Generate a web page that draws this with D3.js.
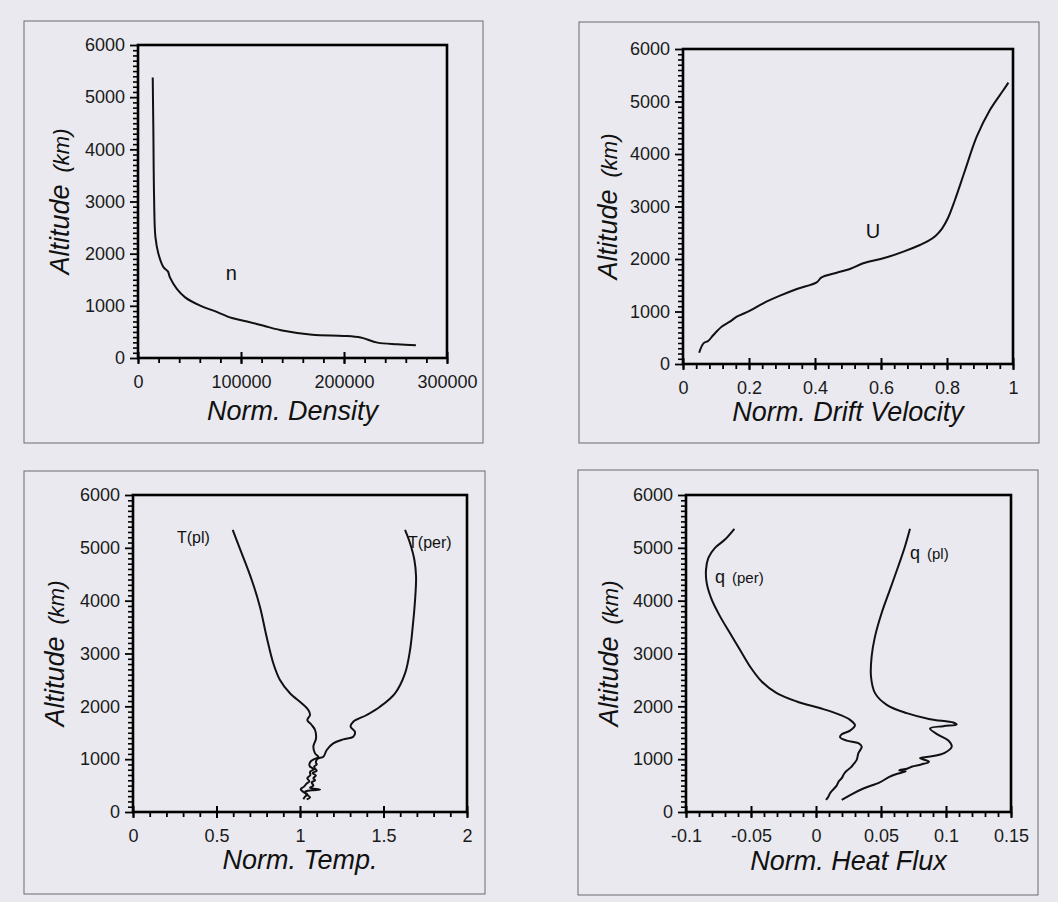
<!DOCTYPE html>
<html><head><meta charset="utf-8">
<script src="https://cdn.jsdelivr.net/npm/d3@7"></script>
<style>
html,body{margin:0;padding:0;background:#e9e9ef;}
svg{display:block;font-family:"Liberation Sans",Arial,Helvetica,sans-serif;}
</style></head><body>
<svg id="chart" width="1058" height="902"></svg>
<script>
// ---------------- data ----------------
const altitudeTicks = [0, 1000, 2000, 3000, 4000, 5000, 6000];
const densityTicks = [0, 100000, 200000, 300000];
const driftTicks = [0, 0.2, 0.4, 0.6, 0.8, 1];
const tempTicks = [0, 0.5, 1, 1.5, 2];
const fluxTicks = [-0.1, -0.05, 0, 0.05, 0.1, 0.15];
const fluxTickLabels = ["-0.1", "-0.05", "0", "0.05", "0.1", "0.15"];

// [value, altitude km]
const densityN = [[14300,5377],[14900,4379],[15600,3093],[16900,2321],[19800,2000],[24700,1742],[29000,1660],[31000,1545],[37700,1325],[45800,1163],[60400,1003],[73300,907],[91300,766],[105900,700],[122100,617],[141500,521],[169200,444],[200000,424],[216200,392],[232500,295],[252000,264],[269800,245]];

const driftU = [[0.049,215],[0.062,394],[0.077,444],[0.092,552],[0.117,710],[0.142,806],[0.163,901],[0.203,1015],[0.243,1156],[0.294,1301],[0.345,1429],[0.405,1556],[0.420,1651],[0.466,1739],[0.506,1810],[0.546,1918],[0.607,2013],[0.668,2140],[0.718,2267],[0.742,2340],[0.765,2440],[0.785,2580],[0.803,2780],[0.824,3124],[0.855,3695],[0.890,4330],[0.930,4838],[0.971,5219],[0.986,5359]];

const tempPl = [[0.597,5338],[0.651,4896],[0.711,4391],[0.760,3886],[0.800,3318],[0.840,2815],[0.880,2498],[0.940,2247],[1.010,2057],[1.050,1931],[1.060,1836],[1.044,1741],[1.070,1647],[1.090,1552],[1.096,1395],[1.080,1236],[1.090,1110],[1.110,1040],[1.085,1000],[1.065,960],[1.056,900],[1.060,860],[1.084,810],[1.060,760],[1.062,700],[1.044,640],[1.056,580],[1.040,540],[1.024,480],[1.004,430],[1.020,380],[1.045,330],[1.030,290],[1.020,240]];

const tempPer = [[1.629,5338],[1.659,5086],[1.685,4770],[1.695,4454],[1.689,4013],[1.675,3507],[1.659,3066],[1.629,2625],[1.569,2247],[1.479,1993],[1.399,1836],[1.319,1709],[1.303,1615],[1.329,1520],[1.319,1425],[1.259,1375],[1.199,1300],[1.160,1174],[1.140,1047],[1.110,1016],[1.100,990],[1.095,940],[1.100,900],[1.085,860],[1.090,820],[1.100,780],[1.075,740],[1.095,690],[1.080,640],[1.090,600],[1.070,560],[1.080,500],[1.060,460],[1.120,425],[1.070,410],[1.030,380],[1.040,330],[1.060,280],[1.040,240]];

const fluxPer = [[-0.0628,5360],[-0.070,5157],[-0.0777,4999],[-0.0828,4810],[-0.0846,4588],[-0.0841,4336],[-0.0802,4019],[-0.0738,3703],[-0.0662,3388],[-0.0585,3071],[-0.0508,2755],[-0.0418,2470],[-0.0302,2250],[-0.0148,2091],[0.0056,1947],[0.0185,1839],[0.0262,1744],[0.030,1640],[0.0262,1540],[0.0198,1470],[0.0185,1416],[0.0236,1352],[0.0326,1302],[0.0352,1238],[0.0326,1113],[0.0313,986],[0.0287,900],[0.0270,850],[0.0236,780],[0.0215,720],[0.0198,640],[0.0175,580],[0.0159,500],[0.0130,420],[0.0108,354],[0.0095,290],[0.0077,228]];

const fluxPl = [[0.0723,5360],[0.0685,5030],[0.0633,4651],[0.0569,4209],[0.0505,3767],[0.0454,3324],[0.0428,2945],[0.0423,2565],[0.0454,2250],[0.0544,2029],[0.0698,1871],[0.0877,1757],[0.1056,1694],[0.1082,1655],[0.0979,1625],[0.0877,1580],[0.0941,1460],[0.1018,1352],[0.1044,1238],[0.0990,1120],[0.0880,1050],[0.0800,1020],[0.0870,950],[0.0810,900],[0.0740,860],[0.0700,820],[0.0640,790],[0.0690,770],[0.0620,720],[0.0560,660],[0.0490,560],[0.0360,440],[0.0270,330],[0.0198,228]];

// ---------------- layout ----------------
const svg = d3.select("#chart");

const panels = [
  {frame:[24,21,483,443], plot:[138,45,447,358], xDomain:[0,300000], xTicks:densityTicks, xLabels:densityTicks.map(String), xMinor:20000,
   xTitle:"Norm. Density", titleBase:420, yTitleOff:69, series:[densityN],
   notes:[{t:"n", x:90600, y:1500, size:20, anchor:"middle"}]},
  {frame:[579,22,1039,443], plot:[683,49,1013,364], xDomain:[0,1], xTicks:driftTicks, xLabels:driftTicks.map(String), xMinor:0.04,
   xTitle:"Norm. Drift Velocity", titleBase:421, yTitleOff:66, series:[driftU],
   notes:[{t:"U", x:0.576, y:2400, size:20, anchor:"middle"}]},
  {frame:[24,471,485,894], plot:[133,495,467,812], xDomain:[0,2], xTicks:tempTicks, xLabels:tempTicks.map(String), xMinor:0.1,
   xTitle:"Norm. Temp.", titleBase:869, yTitleOff:69, series:[tempPl, tempPer],
   notes:[{t:"T(pl)", x:0.263, y:5090, size:16, anchor:"start"},{t:"T(per)", x:1.647, y:5000, size:16, anchor:"start"}]},
  {frame:[578,470,1038,895], plot:[686,495,1011,812], xDomain:[-0.1,0.15], xTicks:fluxTicks, xLabels:fluxTickLabels, xMinor:0.01,
   xTitle:"Norm. Heat Flux", titleBase:870, yTitleOff:68, series:[fluxPer, fluxPl],
   notes:[{t:"q", sub:"(per)", x:-0.0777, y:4330, size:18, anchor:"start"},{t:"q", sub:"(pl)", x:0.0723, y:4780, size:18, anchor:"start"}]}
];

panels.forEach(p => {
  const [fx0, fy0, fx1, fy1] = p.frame;
  const [px0, py0, px1, py1] = p.plot;
  const g = svg.append("g");

  // outer frame
  g.append("rect").attr("x", fx0).attr("y", fy0).attr("width", fx1 - fx0).attr("height", fy1 - fy0)
    .attr("fill", "none").attr("stroke", "#6a6a70").attr("stroke-width", 1);

  const x = d3.scaleLinear().domain(p.xDomain).range([px0, px1]);
  const y = d3.scaleLinear().domain([0, 6000]).range([py1, py0]);

  // minor y ticks
  const yMinor = d3.range(0, 6001, 100).filter(v => v % 1000 !== 0);
  g.append("g").attr("transform", `translate(${px0},0)`)
    .call(d3.axisLeft(y).tickValues(yMinor).tickSize(5).tickFormat(""))
    .call(a => a.select(".domain").remove())
    .call(a => a.selectAll("line").attr("stroke", "#000").attr("stroke-width", 1.6));
  // major y ticks
  g.append("g").attr("transform", `translate(${px0},0)`)
    .call(d3.axisLeft(y).tickValues(altitudeTicks).tickSize(8).tickPadding(5).tickFormat(d3.format("d")))
    .call(a => a.select(".domain").remove())
    .call(a => a.selectAll("line").attr("stroke", "#000").attr("stroke-width", 1.8))
    .call(a => a.selectAll("text").attr("font-size", 18).attr("fill", "#1a1a1a")
      .attr("font-family", '"Liberation Sans",Arial,sans-serif'));

  // minor x ticks
  const n = Math.round((p.xDomain[1] - p.xDomain[0]) / p.xMinor);
  const xMinor = d3.range(0, n + 1).map(i => p.xDomain[0] + i * p.xMinor);
  g.append("g").attr("transform", `translate(0,${py1})`)
    .call(d3.axisBottom(x).tickValues(xMinor).tickSize(5).tickFormat(""))
    .call(a => a.select(".domain").remove())
    .call(a => a.selectAll("line").attr("stroke", "#000").attr("stroke-width", 1.8));
  // major x ticks
  g.append("g").attr("transform", `translate(0,${py1})`)
    .call(d3.axisBottom(x).tickValues(p.xTicks).tickSize(6).tickPadding(11)
      .tickFormat((d, i) => p.xLabels[i]))
    .call(a => a.select(".domain").remove())
    .call(a => a.selectAll("line").attr("y1", -6).attr("y2", 6).attr("stroke", "#000").attr("stroke-width", 2))
    .call(a => a.selectAll("text").attr("font-size", 18).attr("fill", "#1a1a1a")
      .attr("font-family", '"Liberation Sans",Arial,sans-serif'));

  // plot frame
  g.append("rect").attr("x", px0).attr("y", py0).attr("width", px1 - px0).attr("height", py1 - py0)
    .attr("fill", "none").attr("stroke", "#000").attr("stroke-width", 2.6);

  // curves
  const line = d3.line().x(d => x(d[0])).y(d => y(d[1])).curve(d3.curveCatmullRom.alpha(0.5));
  p.series.forEach(s => {
    g.append("path").datum(s).attr("d", line).attr("fill", "none")
      .attr("stroke", "#111").attr("stroke-width", 2).attr("stroke-linejoin", "round");
  });

  // annotations
  p.notes.forEach(nt => {
    const t = g.append("text").attr("x", x(nt.x)).attr("y", y(nt.y))
      .attr("text-anchor", nt.anchor).attr("font-size", nt.size).attr("fill", "#111");
    t.append("tspan").text(nt.t);
    if (nt.sub) t.append("tspan").attr("dx", 7).attr("font-size", 15).text(nt.sub);
  });

  // x title
  g.append("text").attr("x", (px0 + px1) / 2).attr("y", p.titleBase)
    .attr("text-anchor", "middle").attr("font-size", 27).attr("font-style", "italic")
    .attr("fill", "#111").text(p.xTitle);

  // y title
  const yt = g.append("text")
    .attr("transform", `translate(${px0 - p.yTitleOff},${(py0 + py1) / 2}) rotate(-90)`)
    .attr("text-anchor", "middle").attr("font-style", "italic").attr("fill", "#111");
  yt.append("tspan").attr("font-size", 27).text("Altitude");
  yt.append("tspan").attr("font-size", 22).attr("dx", 12).text("(km)");
});
</script>
</body></html>
